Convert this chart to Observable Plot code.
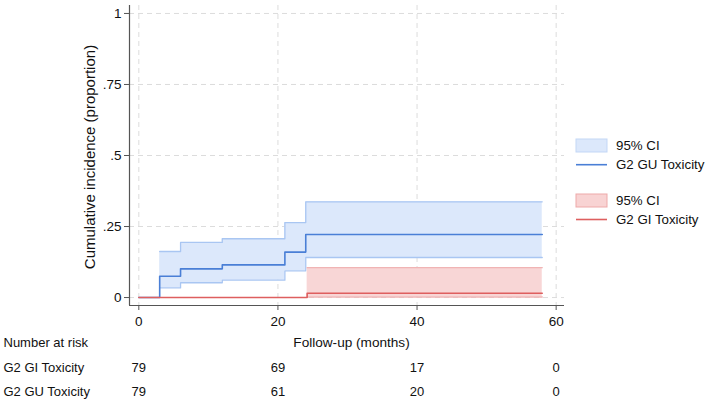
<!DOCTYPE html>
<html>
<head>
<meta charset="utf-8">
<script src="https://cdn.jsdelivr.net/npm/d3@7"></script>
<script src="https://cdn.jsdelivr.net/npm/@observablehq/plot@0.6"></script>
<style>
  html, body { margin: 0; padding: 0; background: #fff; }
  #chart svg { display: block; }
</style>
</head>
<body>
<div id="chart"></div>
<script>
// Cumulative incidence of grade 2 GU toxicity (step estimate + 95% CI)
const guTime = [0, 3, 6, 12, 21, 24, 58];
const guEst  = [0, 0.075, 0.101, 0.115, 0.160, 0.222, 0.222];
const guCiTime = [3, 6, 12, 21, 24, 58];
const guLo     = [0.034, 0.052, 0.061, 0.094, 0.141, 0.141];
const guHi     = [0.162, 0.194, 0.207, 0.264, 0.337, 0.337];

// Cumulative incidence of grade 2 GI toxicity
const giTime = [0, 24.2, 58];
const giEst  = [0, 0.015, 0.015];
const giCiTime = [24.2, 58];
const giLo     = [0.002, 0.002];
const giHi     = [0.105, 0.105];

// Axis ticks
const xTicks = [0, 20, 40, 60];
const yTicks = [0, 0.25, 0.5, 0.75, 1];

// Number-at-risk table
const riskTimes = [0, 20, 40, 60];
const riskGI = [79, 69, 17, 0];
const riskGU = [79, 61, 20, 0];

// Legend entries
const legendItems = [
  {label: "95% CI", kind: "area", fill: "#dce8fb", stroke: "#c3d7f6"},
  {label: "G2 GU Toxicity", kind: "line", stroke: "#4a7fd6"},
  {label: "95% CI", kind: "area", fill: "#f8d3d3", stroke: "#eea9a9"},
  {label: "G2 GI Toxicity", kind: "line", stroke: "#de5f5f"}
];

const gu = guTime.map((t, i) => ({t, y: guEst[i]}));
const guCI = guCiTime.map((t, i) => ({t, lo: guLo[i], hi: guHi[i]}));
const gi = giTime.map((t, i) => ({t, y: giEst[i]}));
const giCI = giCiTime.map((t, i) => ({t, lo: giLo[i], hi: giHi[i]}));

const X_MIN = -1.34, X_MAX = 61.2;
const Y_MIN = -0.028, Y_MAX = 1.028;
const FONT = "'Liberation Sans', Arial, Helvetica, sans-serif";
const axisColor = "#555";
const gridStyle = {stroke: "#dcdcdc", strokeOpacity: 1, strokeDasharray: "5,4", strokeWidth: 1};

const fmtY = d => d === 0 ? "0" : d === 1 ? "1" : String(d).replace(/^0/, "");

const rowMarks = [
  {label: "Number at risk", dy: 37, values: null},
  {label: "G2 GI Toxicity", dy: 62, values: riskGI},
  {label: "G2 GU Toxicity", dy: 86, values: riskGU}
].flatMap(row => {
  const marks = [
    Plot.text([row.label], {text: d => d, frameAnchor: "bottom-left", dx: -126, dy: row.dy,
      textAnchor: "start", lineAnchor: "middle", fontSize: 13, fill: "#111"})
  ];
  if (row.values) {
    marks.push(Plot.text(riskTimes, {x: d => d, text: (d, i) => String(row.values[i]),
      frameAnchor: "bottom", dy: row.dy, lineAnchor: "middle", fontSize: 13, fill: "#111"}));
  }
  return marks;
});

const plot = Plot.plot({
  width: 709,
  height: 400,
  marginLeft: 129,
  marginRight: 145,
  marginTop: 5,
  marginBottom: 95,
  style: {fontFamily: FONT, fontSize: "13.5px", color: "#111", background: "#fff"},
  x: {domain: [X_MIN, X_MAX]},
  y: {domain: [Y_MIN, Y_MAX]},
  marks: [
    Plot.gridX(xTicks, gridStyle),
    Plot.gridY(yTicks, gridStyle),
    // GU confidence band
    Plot.areaY(guCI, {x: "t", y1: "lo", y2: "hi", curve: "step-after", fill: "#dce8fb"}),
    Plot.line(guCI, {x: "t", y: "lo", curve: "step-after", stroke: "#a9c6f2", strokeWidth: 1.3}),
    Plot.line(guCI, {x: "t", y: "hi", curve: "step-after", stroke: "#a9c6f2", strokeWidth: 1.3}),
    // GI confidence band
    Plot.areaY(giCI, {x: "t", y1: "lo", y2: "hi", curve: "step-after", fill: "#f8d6d6"}),
    Plot.line(giCI, {x: "t", y: "lo", curve: "step-after", stroke: "#f0b4b4", strokeWidth: 1.3}),
    Plot.line(giCI, {x: "t", y: "hi", curve: "step-after", stroke: "#f0b4b4", strokeWidth: 1.3}),
    // Estimates
    Plot.line(gu, {x: "t", y: "y", curve: "step-after", stroke: "#4a7fd6", strokeWidth: 1.6}),
    Plot.line(gi, {x: "t", y: "y", curve: "step-after", stroke: "#de5f5f", strokeWidth: 1.6}),
    // Axes
    Plot.ruleX([X_MIN], {stroke: axisColor, strokeWidth: 1.2}),
    Plot.ruleY([Y_MIN], {stroke: axisColor, strokeWidth: 1.2}),
    Plot.axisX({ticks: xTicks, tickSize: 5, tickPadding: 6, label: null, stroke: axisColor, fontSize: 13.5}),
    Plot.axisY({ticks: yTicks, tickFormat: fmtY, tickSize: 5, tickPadding: 3, label: null, stroke: axisColor, fontSize: 13.5}),
    Plot.text(["Follow-up (months)"], {text: d => d, frameAnchor: "bottom", dx: 4.5, dy: 37,
      lineAnchor: "middle", fontSize: 13.6, fill: "#111"}),
    Plot.text(["Cumulative incidence (proportion)"], {text: d => d, frameAnchor: "left", dx: -39, dy: 1.5,
      rotate: -90, textAnchor: "middle", lineAnchor: "middle", fontSize: 15, fill: "#111"}),
    ...rowMarks
  ]
});

document.getElementById("chart").appendChild(plot);

// Legend to the right of the plot area
const svg = d3.select(plot);
const leg = svg.append("g").attr("font-family", FONT).attr("font-size", 13.3)
  .attr("fill", "#111").attr("text-anchor", "start");
const rowY = [145.5, 164.7, 200.5, 219.5];
legendItems.forEach((item, i) => {
  const y = rowY[i];
  if (item.kind === "area") {
    leg.append("rect").attr("x", 576).attr("y", y - 6.5).attr("width", 31).attr("height", 13)
      .attr("fill", item.fill).attr("stroke", item.stroke).attr("stroke-width", 1);
  } else {
    leg.append("line").attr("x1", 576).attr("x2", 607).attr("y1", y).attr("y2", y)
      .attr("stroke", item.stroke).attr("stroke-width", 1.6);
  }
  leg.append("text").attr("x", 616).attr("y", y).attr("dy", "0.35em")
    .attr("text-anchor", "start").text(item.label);
});
</script>
</body>
</html>
